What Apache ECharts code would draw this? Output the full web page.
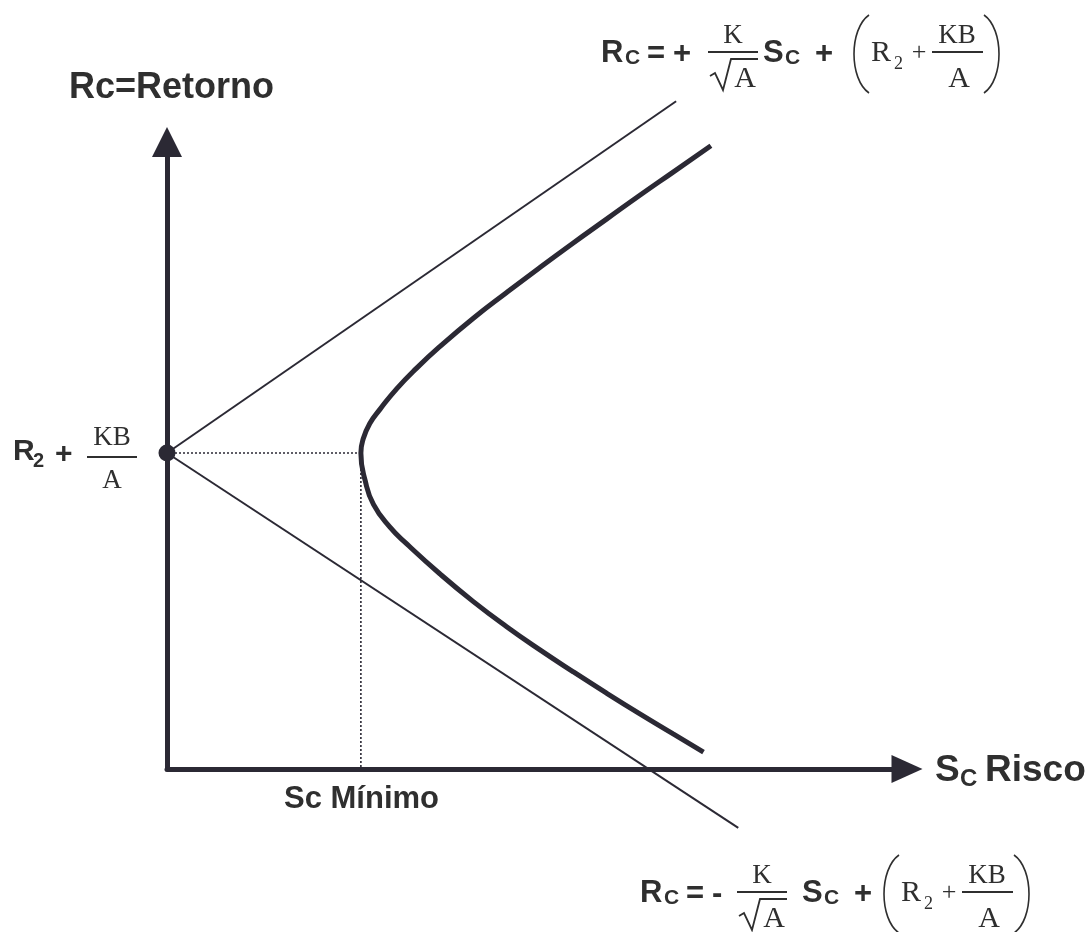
<!DOCTYPE html>
<html>
<head>
<meta charset="utf-8">
<title>Rc = Retorno / Sc Risco</title>
<script src="https://cdn.jsdelivr.net/npm/echarts@6/dist/echarts.min.js"></script>
<style>
  html, body { margin: 0; padding: 0; background: #ffffff; }
  #chart { width: 1091px; height: 932px; }
</style>
</head>
<body>
<div id="chart"></div>
<script>
// Risk (Sc) on x, return (Rc) on y, both in arbitrary units 0..10
const axisRangeX = [0, 10];
const axisRangeY = [0, 10];

// Point where both asymptotes meet the return axis: R2 + KB/A
const interceptPoint = [[0, 5.04]];

// Asymptotes  Rc = ± K/√A · Sc + (R2 + KB/A)
const upperAsymptote = [[0, 5.04], [6.88, 10.65]];
const lowerAsymptote = [[0, 5.04], [7.72, -0.94]];

// Frontier (hyperbola), from its lower end up through the vertex to its upper end
const frontierPoints = [
  [7.25, 0.27], [6.84, 0.56], [6.39, 0.88], [5.94, 1.21], [5.49, 1.55],
  [5.04, 1.90], [4.59, 2.27], [4.14, 2.67], [3.69, 3.11], [3.24, 3.59],
  [3.01, 3.86], [2.79, 4.22], [2.68, 4.59], [2.62, 5.04], [2.65, 5.26],
  [2.74, 5.51], [2.88, 5.74], [3.10, 6.06], [3.37, 6.39], [3.69, 6.74],
  [4.14, 7.19], [4.59, 7.60], [5.04, 8.00], [5.49, 8.39], [5.94, 8.77],
  [6.39, 9.15], [6.84, 9.52], [7.35, 9.94]
];

// Minimum risk: dotted guides from the intercept to the vertex and down to the risk axis
const minRiskS = 2.62;
const minRiskR = 5.04;
const guideHorizontal = [[0, minRiskR], [minRiskS, minRiskR]];
const guideVertical = [[minRiskS, minRiskR], [minRiskS, 0]];

const INK = '#2b2934';
const TEXT = '#2f2f2f';
const SANS = '"Liberation Sans", Arial, Helvetica, sans-serif';
const SERIF = '"Liberation Serif", "Times New Roman", serif';

function txt(text, x, y, font, align) {
  return {
    type: 'text',
    silent: true,
    style: {
      text: text, x: x, y: y, font: font, fill: TEXT,
      align: align || 'left', textAlign: align || 'left',
      verticalAlign: 'middle', textVerticalAlign: 'middle'
    }
  };
}
function seg(x1, y1, x2, y2, w) {
  return {
    type: 'line', silent: true,
    shape: { x1: x1, y1: y1, x2: x2, y2: y2 },
    style: { stroke: TEXT, lineWidth: w || 2 }
  };
}
function poly(points, w) {
  return {
    type: 'polyline', silent: true,
    shape: { points: points },
    style: { stroke: TEXT, lineWidth: w || 2, fill: null, lineJoin: 'miter' }
  };
}
function paren(x, top, bottom, dir) {
  const mid = (top + bottom) / 2;
  return {
    type: 'bezierCurve', silent: true,
    shape: { x1: x, y1: top, x2: x, y2: bottom, cpx1: x - dir * 20, cpy1: mid - 25, cpx2: x - dir * 20, cpy2: mid + 25 },
    style: { stroke: TEXT, lineWidth: 1.6, fill: null }
  };
}

// Equation  Rc = sign K/√A Sc + (R2 + KB/A), laid out from the left edge x0 and the fraction bar y0
function equation(x0, y0, sign, fracShift, groupShift) {
  const b30 = 'bold 31px ' + SANS;
  const b21 = 'bold 21px ' + SANS;
  const f = x0 + fracShift;
  const g = x0 + groupShift;
  return [
    txt('R', x0, y0 + 1, b30),
    txt('C', x0 + 24, y0 + 6, b21),
    txt('=', x0 + 46, y0 + 2, b30),
    txt(sign, x0 + 72, y0 + 2, b30),
    seg(f + 107, y0, f + 157, y0, 2),
    txt('K', f + 132, y0 - 16, '27px ' + SERIF, 'center'),
    poly([[f + 109, y0 + 24], [f + 114, y0 + 21], [f + 122, y0 + 38], [f + 130, y0 + 7], [f + 157, y0 + 7]], 1.8),
    txt('A', f + 144, y0 + 27, '30px ' + SERIF, 'center'),
    txt('S', x0 + 162, y0 + 1, b30),
    txt('C', x0 + 184, y0 + 6, b21),
    txt('+', x0 + 214, y0 + 2, b30),
    paren(g + 268, y0 - 37, y0 + 41, 1),
    txt('R', g + 270, y0 + 1, '30px ' + SERIF),
    txt('2', g + 293, y0 + 12, '18px ' + SERIF),
    txt('+', g + 318, y0 + 1, '26px ' + SERIF, 'center'),
    seg(g + 331, y0, g + 382, y0, 2),
    txt('KB', g + 356, y0 - 16, '27px ' + SERIF, 'center'),
    txt('A', g + 358, y0 + 27, '30px ' + SERIF, 'center'),
    paren(g + 383, y0 - 37, y0 + 41, -1)
  ];
}

const labels = [].concat(
  [txt('Rc=Retorno', 69, 88, 'bold 36px ' + SANS)],
  [txt('Sc Mínimo', 284, 799, 'bold 31px ' + SANS)],
  [
    txt('S', 935, 771, 'bold 37px ' + SANS),
    txt('C', 960, 779, 'bold 24px ' + SANS),
    txt('Risco', 985, 771, 'bold 37px ' + SANS)
  ],
  [
    txt('R', 13, 452, 'bold 30px ' + SANS),
    txt('2', 33, 461, 'bold 20px ' + SANS),
    txt('+', 55, 455, 'bold 30px ' + SANS),
    seg(87, 457, 137, 457, 2),
    txt('KB', 112, 438, '27px ' + SERIF, 'center'),
    txt('A', 112, 481, '27px ' + SERIF, 'center')
  ],
  equation(601, 52, '+', 0, 0),
  equation(640, 892, '-', -10, -9)
);

const chart = echarts.init(document.getElementById('chart'), null, { renderer: 'canvas' });

const hiddenAxisParts = {
  axisTick: { show: false },
  axisLabel: { show: false },
  splitLine: { show: false }
};

chart.setOption({
  animation: false,
  backgroundColor: '#ffffff',
  grid: { left: 167, right: 184, top: 142, bottom: 163, containLabel: false },
  xAxis: Object.assign({
    type: 'value', min: axisRangeX[0], max: axisRangeX[1],
    axisLine: {
      show: true, onZero: false,
      symbol: ['none', 'triangle'], symbolSize: [28, 31],
      lineStyle: { color: INK, width: 5 }
    }
  }, hiddenAxisParts),
  yAxis: Object.assign({
    type: 'value', min: axisRangeY[0], max: axisRangeY[1],
    axisLine: {
      show: true, onZero: false,
      symbol: ['none', 'triangle'], symbolSize: [30, 30],
      lineStyle: { color: INK, width: 5 }
    }
  }, hiddenAxisParts),
  series: [
    {
      name: 'guideH', type: 'line', data: guideHorizontal, symbol: 'none', clip: false,
      lineStyle: { color: INK, width: 1.6, type: [2, 2] }, z: 2
    },
    {
      name: 'guideV', type: 'line', data: guideVertical, symbol: 'none', clip: false,
      lineStyle: { color: INK, width: 1.6, type: [2, 2] }, z: 2
    },
    {
      name: 'upperAsymptote', type: 'line', data: upperAsymptote, symbol: 'none', clip: false,
      lineStyle: { color: INK, width: 2 }, z: 3
    },
    {
      name: 'lowerAsymptote', type: 'line', data: lowerAsymptote, symbol: 'none', clip: false,
      lineStyle: { color: INK, width: 2 }, z: 3
    },
    {
      name: 'frontier', type: 'line', data: frontierPoints, symbol: 'none', clip: false,
      smooth: 0.5,
      lineStyle: { color: INK, width: 5, cap: 'butt' }, z: 4
    },
    {
      name: 'intercept', type: 'scatter', data: interceptPoint, symbol: 'circle', symbolSize: 17,
      clip: false, itemStyle: { color: INK, opacity: 1 }, z: 5
    }
  ],
  graphic: { elements: labels }
});
</script>
</body>
</html>
